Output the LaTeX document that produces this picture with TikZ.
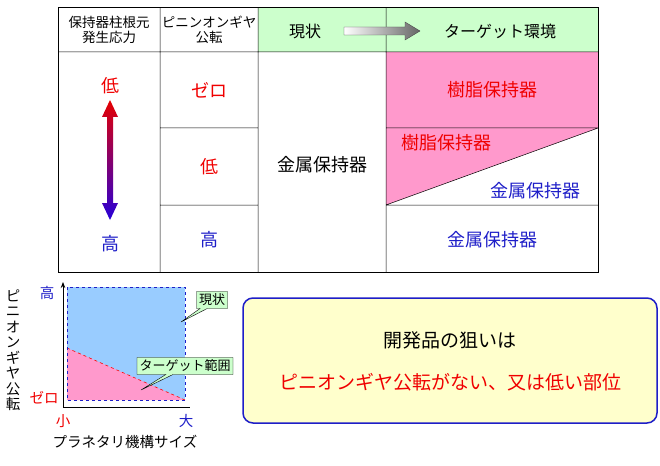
\documentclass[tikz,border=0pt]{standalone}
\usepackage{fontspec}
\setmainfont{Noto Sans CJK JP}
\usetikzlibrary{shapes.callouts,arrows.meta,shadings}
\definecolor{hgreen}{RGB}{204,255,204}
\definecolor{hpink}{RGB}{255,153,204}
\definecolor{cred}{RGB}{240,0,0}
\definecolor{cblue}{RGB}{30,30,200}
\definecolor{lblue}{RGB}{153,204,255}
\definecolor{lyel}{RGB}{255,255,204}
\tikzset{big/.style={font=\fontsize{18}{20}\selectfont},
 hdr/.style={font=\fontsize{13.5}{15}\selectfont,align=center},
 sm/.style={font=\fontsize{14.5}{16}\selectfont},
 call/.style={rectangle callout,draw,fill=hgreen,font=\fontsize{13}{14}\selectfont,inner sep=2.5pt}}
\begin{document}
\begin{tikzpicture}[x=1pt,y=-1pt]
\useasboundingbox (0,0) rectangle (660,465);
% table
\fill[hgreen] (258,8) rectangle (598,52);
\fill[hpink] (386,52) rectangle (598,128);
\fill[hpink] (386,128) -- (598,128) -- (386,205) -- cycle;
\draw[line width=0.5pt] (160,8)--(160,272) (258,8)--(258,272) (386,8)--(386,272)
 (58,52)--(598,52) (160,128)--(258,128) (160,205)--(258,205) (386,128)--(598,128) (386,205)--(598,205)
 (386,205)--(598,128);
\draw[line width=1pt] (58,8) rectangle (598,272);
\node[hdr,inner sep=0pt] (h1) at (109,30) {保持器柱根元\\発生応力};
\node[hdr,inner sep=0pt] (h2) at (209,30) {ピニンオンギヤ\\公転};
\node[font=\fontsize{16}{18}\selectfont] (h3) at (305,31) {現状};
\node[font=\fontsize{16}{18}\selectfont] (h4) at (500,31) {ターゲット環境};
\shade[left color=white,right color=gray!80!black] (344,27) -- (405,27) -- (405,22) -- (420,31) -- (405,40) -- (405,35) -- (344,35) -- cycle;
\draw[gray!60!black,line width=0.4pt] (344,27) -- (405,27) -- (405,22) -- (420,31) -- (405,40) -- (405,35) -- (344,35) -- cycle;
\node[big,text=cred] (l1) at (110,86) {低};
\node[big,text=cblue] (l2) at (110,244) {高};
\shade[top color=red!90!black,bottom color=blue!70!violet] (110,100) -- (118,117) -- (113,117) -- (113,203) -- (118,203) -- (110,220) -- (102,203) -- (107,203) -- (107,117) -- (102,117) -- cycle;
\node[big,text=cred] (c1) at (209,90) {ゼロ};
\node[big,text=cred] (c2) at (209,167) {低};
\node[big,text=cblue] (c3) at (209,240) {高};
\node[big] (m) at (322,165) {金属保持器};
\node[big,text=cred] (r1) at (492,90) {樹脂保持器};
\node[big,text=cred] (r2) at (446,143) {樹脂保持器};
\node[big,text=cblue] (r3) at (535,191) {金属保持器};
\node[big,text=cblue] (r4) at (492,240) {金属保持器};
% chart
\fill[lblue] (67,287) rectangle (185,400);
\fill[hpink] (67,348) -- (67,400) -- (185,400) -- cycle;
\draw[red,dashed,line width=0.6pt] (67,348) -- (185,400);
\draw[cblue,dashed,line width=0.6pt] (67,287) rectangle (185,400);
\draw[line width=0.8pt,-{Stealth[length=6pt]}] (63,407) -- (63,282);
\draw[line width=0.8pt] (63,407) -- (190,407);
\node[call,callout absolute pointer={(181,322)}] (k1) at (212,300) {現状};
\node[call,callout absolute pointer={(141,390)}] (k2) at (185,366) {ターゲット範囲};
\node[sm,text=cblue] (y1) at (47,293) {高};
\node[sm,text=cred] (y0) at (44,398) {ゼロ};
\node[sm,text=cred] (x0) at (63,421) {小};
\node[sm,text=cblue] (x1) at (186,421) {大};
\node[sm] (xl) at (125,442) {プラネタリ機構サイズ};
\node[font=\fontsize{14.5}{15.5}\selectfont,align=center,inner sep=0pt] (yl) at (13,350) {ピ\\ニ\\オ\\ン\\ギ\\ヤ\\公\\転};
% message box
\draw[cblue,line width=1.5pt,fill=lyel,rounded corners=10pt] (243,298) rectangle (657,423);
\node[font=\fontsize{19}{21}\selectfont] (t1) at (450,340) {開発品の狙いは};
\node[font=\fontsize{19}{21}\selectfont,text=cred] (t2) at (450,382) {ピニオンギヤ公転がない、又は低い部位};
\end{tikzpicture}
\end{document}
